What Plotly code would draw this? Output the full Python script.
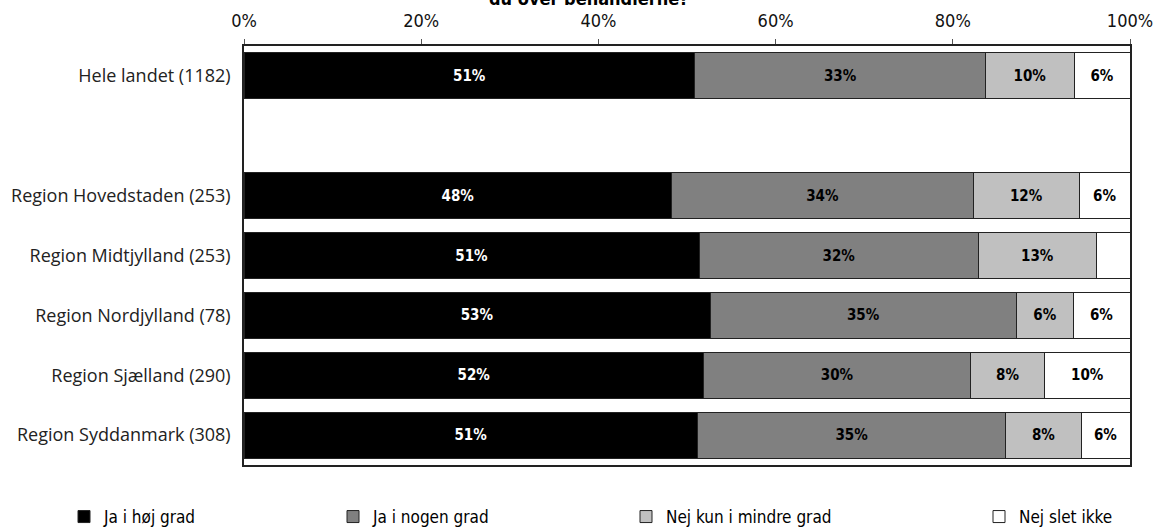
import plotly.graph_objects as go

categories = ["Hele landet (1182)", " ", "Region Hovedstaden (253)", "Region Midtjylland (253)",
              "Region Nordjylland (78)", "Region Sjælland (290)", "Region Syddanmark (308)"]
series_names = ["Ja i høj grad", "Ja i nogen grad", "Nej kun i mindre grad", "Nej slet ikke"]
ja_hoej = [50.9, None, 48.3, 51.4, 52.6, 51.9, 51.2]
ja_nogen = [32.8, None, 34.0, 31.5, 34.6, 30.1, 34.8]
nej_mindre = [10.0, None, 12.0, 13.3, 6.4, 8.4, 8.5]
nej_slet = [6.3, None, 5.7, 3.8, 6.4, 9.6, 5.5]
tick_vals = [0, 20, 40, 60, 80, 100]
tick_text = ["0%", "20%", "40%", "60%", "80%", "100%"]

series = [ja_hoej, ja_nogen, nej_mindre, nej_slet]
fills = ["#000000", "#808080", "#C0C0C0", "#FFFFFF"]
text_colors = ["#FFFFFF", "#000000", "#000000", "#000000"]
legend_ids = ["legend", "legend2", "legend3", "legend4"]
legend_x = [64, 333, 626, 979]

COND = "DejaVu Sans Condensed"

fig = go.Figure()
for name, vals, fc, tc, lid in zip(series_names, series, fills, text_colors, legend_ids):
    labels = ["" if (v is None or v < 4) else f"{round(v)}%" for v in vals]
    fig.add_trace(go.Bar(
        y=categories, x=vals, name=name, orientation="h",
        marker=dict(color=fc, line=dict(color="#222222", width=1)),
        text=labels, textposition="inside", insidetextanchor="middle",
        textfont=dict(color=tc, size=15, family=COND),
        texttemplate="<b>%{text}</b>", width=0.77, legend=lid,
        showlegend=True, hoverinfo="skip",
    ))

W, H = 1158, 530
ml, mr, mt, mb = 244, 28, 46, 65
layout_legends = {}
for lid, lx in zip(legend_ids, legend_x):
    layout_legends[lid] = dict(
        x=lx / W, xref="container", y=(H - 517) / H, yref="container",
        xanchor="left", yanchor="middle", orientation="h",
        font=dict(family=COND, size=17, color="#000000"),
        bgcolor="rgba(0,0,0,0)", itemwidth=30, tracegroupgap=0,
        itemclick=False, visible=True,
    )

fig.update_layout(
    width=W, height=H,
    showlegend=True,
    margin=dict(l=ml, r=mr, t=mt, b=mb, pad=0),
    barmode="stack",
    plot_bgcolor="#FFFFFF", paper_bgcolor="#FFFFFF",
    uniformtext=dict(mode="show", minsize=8),
    xaxis=dict(side="top", range=[0, 100], tickvals=tick_vals, ticktext=tick_text,
               showgrid=False, zeroline=False, showline=True, linecolor="#222222", linewidth=1.5,
               mirror=True, ticks="outside", ticklen=5, tickcolor="#555555",
               automargin=False, ticklabelstandoff=5,
               tickfont=dict(family=COND, size=18, color="#111111")),
    yaxis=dict(autorange="reversed", categoryorder="array", categoryarray=categories,
               showgrid=False, zeroline=False, showline=True, linecolor="#222222", linewidth=1.5,
               mirror=True, ticks="", automargin=False, ticklabelstandoff=8,
               tickfont=dict(family="Open Sans", size=18, color="#222222")),
    annotations=[dict(text="<b>du over behandlerne?</b>", xref="paper", yref="paper",
                      x=(589 - ml) / (W - ml - mr), y=1 + 35 / (H - mt - mb),
                      xanchor="center", yanchor="bottom", showarrow=False,
                      font=dict(family=COND, size=18, color="#000000"))],
    **layout_legends,
)

fig.write_html("out.html", config={"displayModeBar": False},
               post_script="document.body.style.margin='0';")
